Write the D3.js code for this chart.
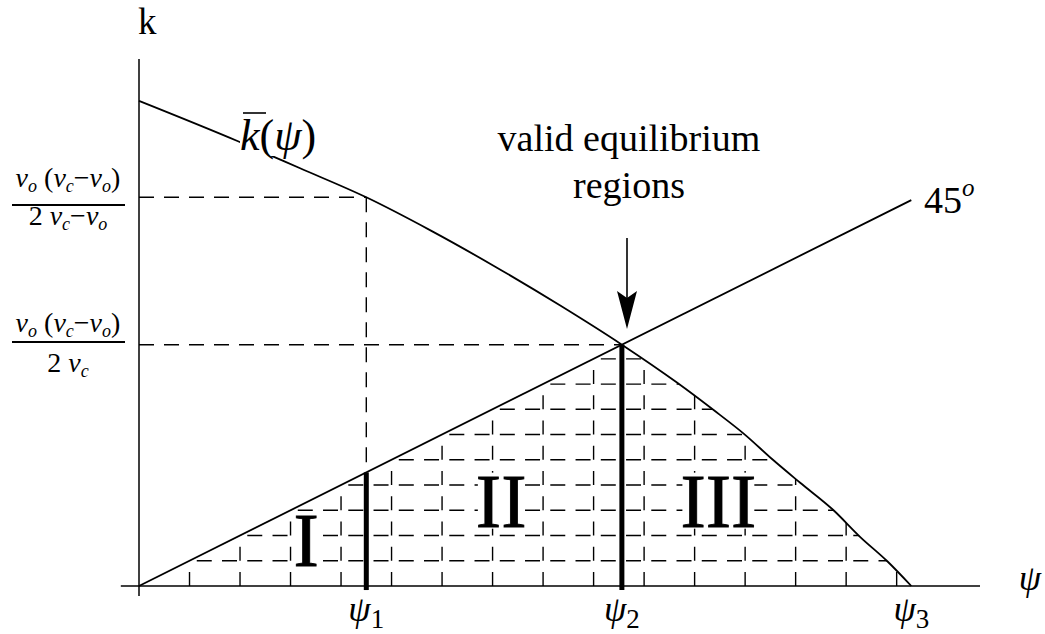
<!DOCTYPE html>
<html>
<head>
<meta charset="utf-8">
<script src="https://cdn.jsdelivr.net/npm/d3@7"></script>
<style>
  html, body { margin: 0; padding: 0; background: #fff; }
  text { font-family: "Liberation Serif", "Times New Roman", serif; fill: #000; }
</style>
</head>
<body>
<svg id="chart" width="1045" height="634"></svg>
<script>
// Critical values of psi: psi1, psi2 (where kbar meets the 45 degree line), psi3 (kbar = 0)
const psiMarks = [0.0450, 0.0956, 0.1529];
const psiSubs = ["1", "2", "3"];

// kbar(psi), sampled along the curve
const kbarPsi = [0.0000, 0.0196, 0.0319, 0.0450, 0.0577, 0.0701, 0.0834, 0.0956,
                 0.1065, 0.1137, 0.1200, 0.1255, 0.1309, 0.1374, 0.1428, 0.1481, 0.1529];
const kbarK   = [0.1922, 0.1762, 0.1655, 0.1540, 0.1409, 0.1270, 0.1111, 0.0956,
                 0.0806, 0.0698, 0.0599, 0.0500, 0.0409, 0.0302, 0.0194, 0.0099, 0.0000];

// 45 degree line k = psi
const diagPsi = [0, 0.1529];

// levels marked on the k axis: kbar(psi1) and k at psi2
const kMarks = [0.1540, 0.0956];

// hatch grid spacing (data units)
const hatchStep = 0.01;

// region names
const regionNames = ["I", "II", "III"];
const regionPsi = [0.0331, 0.0717, 0.1147];
const regionK   = [0.0080, 0.0235, 0.0235];

const svg = d3.select("#chart");
const x = d3.scaleLinear().domain([0, 0.1665]).range([139, 980]);
const y = d3.scaleLinear().domain([0, 0.2088]).range([586, 59]);

const kbarPts = kbarPsi.map((p, i) => [p, kbarK[i]]);
const line = d3.line().x(d => x(d[0])).y(d => y(d[1]));
const curve = d3.line().x(d => x(d[0])).y(d => y(d[1])).curve(d3.curveMonotoneX);

// ---- region under min(45 degree line, kbar) used for the hatching ----
const psi2 = psiMarks[1], psi3 = psiMarks[2];
const regionPts = [[0, 0], [psi2, psi2]]
  .concat(kbarPts.filter(d => d[0] > psi2))
  .concat([[psi3, 0]]);
svg.append("defs").append("clipPath").attr("id", "region")
  .append("path")
  .attr("d", line(regionPts) + "Z");

const hatch = svg.append("g").attr("clip-path", "url(#region)")
  .attr("stroke", "#000").attr("stroke-width", 1.4).attr("fill", "none");

const rows = d3.range(1, Math.floor(psi2 / hatchStep) + 1).map(j => j * hatchStep);
hatch.selectAll("line.h").data(rows).join("line")
  .attr("class", "h")
  .attr("x1", k => x(k)).attr("x2", x(psi3))
  .attr("y1", k => y(k)).attr("y2", k => y(k))
  .attr("stroke-dasharray", "15 10.25")
  .attr("stroke-dashoffset", 18);

const cols = d3.range(1, Math.floor(psi3 / hatchStep) + 1).map(i => i * hatchStep);
hatch.selectAll("line.v").data(cols).join("line")
  .attr("class", "v")
  .attr("x1", p => x(p)).attr("x2", p => x(p))
  .attr("y1", y(0)).attr("y2", y(psi2 + hatchStep))
  .attr("stroke-dasharray", "14 11.24");

// ---- dashed guides to the k axis ----
const guides = svg.append("g").attr("stroke", "#000").attr("stroke-width", 1.4)
  .attr("stroke-dasharray", "15 10");
guides.append("line")
  .attr("x1", x(0)).attr("x2", x(psiMarks[0]))
  .attr("y1", y(kMarks[0])).attr("y2", y(kMarks[0]));
guides.append("line")
  .attr("x1", x(psiMarks[0])).attr("x2", x(psiMarks[0]))
  .attr("y1", y(kMarks[0])).attr("y2", y(psiMarks[0]));
guides.append("line")
  .attr("x1", x(0)).attr("x2", x(psi2))
  .attr("y1", y(kMarks[1])).attr("y2", y(kMarks[1]));

// ---- axes ----
const axes = svg.append("g").attr("stroke", "#000").attr("stroke-width", 1.5);
axes.append("line").attr("x1", x(-0.0036)).attr("x2", x(0.1665))
  .attr("y1", y(0)).attr("y2", y(0));
axes.append("line").attr("x1", x(0)).attr("x2", x(0))
  .attr("y1", y(0.2088)).attr("y2", y(-0.004));

// ---- curves ----
svg.append("path").datum(kbarPts).attr("d", curve)
  .attr("fill", "none").attr("stroke", "#000").attr("stroke-width", 1.8);
svg.append("path").datum(diagPsi.map(p => [p, p])).attr("d", line)
  .attr("fill", "none").attr("stroke", "#000").attr("stroke-width", 1.8);

// ---- thick bars at psi1 and psi2 ----
svg.append("g").selectAll("line").data(psiMarks.slice(0, 2)).join("line")
  .attr("x1", p => x(p)).attr("x2", p => x(p))
  .attr("y1", p => y(p)).attr("y2", y(-0.0016))
  .attr("stroke", "#000").attr("stroke-width", 5);

// text placed on a white backing rectangle, trimmed by (padX, padY)
function backed(parent, padX, padY) {
  const g = parent.append("g");
  const t = g.append("text");
  return {
    text: t,
    finish() {
      const b = t.node().getBBox();
      g.insert("rect", ":first-child")
        .attr("x", b.x + padX).attr("y", b.y + padY)
        .attr("width", b.width - 2 * padX).attr("height", b.height - 2 * padY)
        .attr("fill", "#fff");
    }
  };
}

// ---- region labels ----
regionNames.forEach((name, i) => {
  const lb = backed(svg, 2, 14);
  lb.text.attr("x", x(regionPsi[i])).attr("y", y(regionK[i]))
    .attr("text-anchor", "middle")
    .style("font-size", "76px")
    .style("stroke", "#000").style("stroke-width", 0.8)
    .text(name);
  lb.finish();
});

// ---- psi tick labels ----
const tl = svg.append("g");
psiMarks.forEach((p, i) => {
  const t = tl.append("text").attr("x", x(p)).attr("y", 621)
    .attr("text-anchor", "middle").style("font-size", "36px");
  t.append("tspan").style("font-style", "italic").text("ψ");
  t.append("tspan").attr("dy", 7).style("font-size", "27px").text(psiSubs[i]);
});

// axis names
svg.append("text").attr("x", 138).attr("y", 34).attr("text-anchor", "start")
  .style("font-size", "37px").text("k");
svg.append("text").attr("x", 1030).attr("y", 590).attr("text-anchor", "middle")
  .style("font-size", "36px").style("font-style", "italic").text("ψ");

// ---- k axis fraction labels ----
function addParts(t, parts) {
  let sub = false;
  parts.forEach(([s, kind]) => {
    const ts = t.append("tspan").text(s);
    if (kind === "i" || kind === "s") ts.style("font-style", "italic");
    if (kind === "s") {
      ts.style("font-size", "18px");
      if (!sub) { ts.attr("dy", 5); sub = true; }
    } else if (sub) { ts.attr("dy", -5); sub = false; }
  });
}
function frac(cx, barY, numBase, denBase, denParts) {
  const g = svg.append("g");
  const num = g.append("text").attr("x", cx).attr("y", numBase)
    .attr("text-anchor", "middle").style("font-size", "28px");
  addParts(num, [["v", "i"], ["o", "s"], [" (", "n"], ["v", "i"], ["c", "s"],
                 ["−", "n"], ["v", "i"], ["o", "s"], [")", "n"]]);
  g.append("line").attr("x1", 12).attr("x2", 125).attr("y1", barY).attr("y2", barY)
    .attr("stroke", "#000").attr("stroke-width", 1.8);
  const den = g.append("text").attr("x", cx).attr("y", denBase)
    .attr("text-anchor", "middle").style("font-size", "28px");
  addParts(den, denParts);
}
frac(68, 205, 187, 225, [["2 ", "n"], ["v", "i"], ["c", "s"], ["−", "n"], ["v", "i"], ["o", "s"]]);
frac(68, 342, 332, 372, [["2 ", "n"], ["v", "i"], ["c", "s"]]);

// ---- kbar(psi) label ----
const kl = backed(svg, 0, 4);
kl.text.attr("x", 240).attr("y", 150).style("font-size", "44px");
kl.text.append("tspan").style("font-style", "italic").text("k");
kl.text.append("tspan").text("(");
kl.text.append("tspan").style("font-style", "italic").text("ψ");
kl.text.append("tspan").text(")");
kl.finish();
svg.append("line").attr("x1", 243).attr("x2", 266).attr("y1", 113).attr("y2", 113)
  .attr("stroke", "#000").attr("stroke-width", 1.6);

// ---- 45 degree label ----
const dl = svg.append("text").attr("x", 924).attr("y", 213).style("font-size", "38px");
dl.append("tspan").text("45");
dl.append("tspan").attr("dy", -17).style("font-size", "25px").style("font-style", "italic").text("o");

// ---- annotation with arrow ----
svg.append("text").attr("x", 629).attr("y", 151).attr("text-anchor", "middle")
  .style("font-size", "38px").text("valid equilibrium");
svg.append("text").attr("x", 629).attr("y", 198).attr("text-anchor", "middle")
  .style("font-size", "38px").text("regions");
svg.append("line").attr("x1", 627).attr("x2", 627).attr("y1", 238).attr("y2", 300)
  .attr("stroke", "#000").attr("stroke-width", 1.6);
svg.append("path")
  .attr("d", "M627,329 L617,291 L627,298 L637,291 Z")
  .attr("fill", "#000");
</script>
</body>
</html>
